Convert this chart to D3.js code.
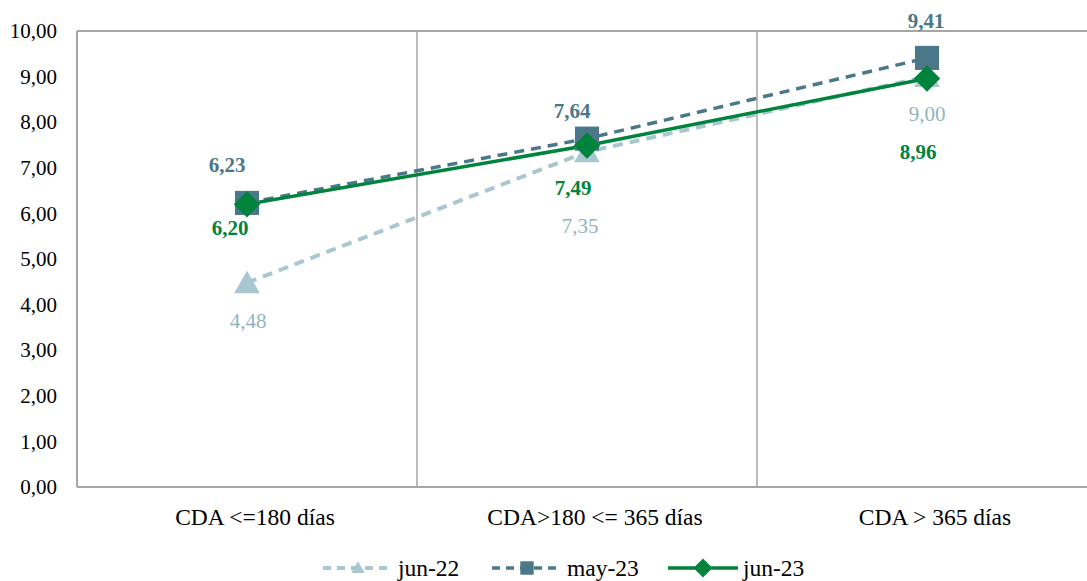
<!DOCTYPE html>
<html><head><meta charset="utf-8">
<script src="https://cdn.jsdelivr.net/npm/d3@7"></script>
<style>body{margin:0;background:#fff}svg{display:block}svg text{font-family:"Liberation Serif","Times New Roman",serif !important}</style>
</head><body><svg id="c" width="1087" height="581"></svg>
<script>
const categories = ["CDA <=180 días", "CDA>180 <= 365 días", "CDA > 365 días"];
const jun22 = [4.48, 7.35, 9.00];
const may23 = [6.23, 7.64, 9.41];
const jun23 = [6.20, 7.49, 8.96];
const yTicks = [0,1,2,3,4,5,6,7,8,9,10];
const seriesNames = ["jun-22", "may-23", "jun-23"];

// label offsets (layout only)
const labelOffsets = {
  "jun-22": [[1,38],[-7,74],[0,37]],
  "may-23": [[-20,-38],[-15,-28],[-1,-37]],
  "jun-23": [[-17,24],[-14,43],[-9,74]]
};

const svg = d3.select("#c");
const L = 77, T = 31, B = 487;
const x = d3.scaleBand().domain(categories).range([L, L + 3*340]).padding(0);
const y = d3.scaleLinear().domain([0,10]).range([B, T]);
const grid = "#a6a6a6";

svg.append("line").attr("x1",L).attr("x2",1087).attr("y1",y(10)).attr("y2",y(10)).attr("stroke",grid).attr("stroke-width",2);
svg.append("line").attr("x1",L).attr("x2",1087).attr("y1",y(0)).attr("y2",y(0)).attr("stroke",grid).attr("stroke-width",2);
svg.append("line").attr("x1",L).attr("x2",L).attr("y1",y(10)).attr("y2",y(0)).attr("stroke",grid).attr("stroke-width",2);
categories.slice(1).forEach(c=>{
  svg.append("line").attr("x1",x(c)).attr("x2",x(c)).attr("y1",y(10)).attr("y2",y(0)).attr("stroke",grid).attr("stroke-width",1.5);
});

const yAxis = d3.axisLeft(y).tickValues(yTicks).tickSize(0).tickPadding(20)
  .tickFormat(d=>d3.format(".2f")(d).replace(".",","));
const ga = svg.append("g").attr("transform",`translate(${L},0)`).call(yAxis);
ga.select(".domain").remove();
ga.attr("font-family",null);
ga.selectAll("text").attr("font-size",21).attr("fill","#000");

const xAxis = d3.axisBottom(x).tickSize(0).tickPadding(0);
const gx = svg.append("g").attr("transform",`translate(0,${B})`).call(xAxis);
gx.select(".domain").remove();
gx.attr("font-family",null);
gx.selectAll("text").attr("font-size",23.5).attr("fill","#000").attr("dy",null).attr("x",8).attr("y",30).attr("dominant-baseline","central");

const diamond = {draw(ctx, size){ const r = Math.sqrt(size/2); ctx.moveTo(0,-r); ctx.lineTo(r,0); ctx.lineTo(0,r); ctx.lineTo(-r,0); ctx.closePath(); }};

const series = [
  {name:"jun-22", vals:jun22, color:"#a9c7d0", label:"#92b4c0", dash:"10,7", w:4, sym:d3.symbolTriangle, size:290, legSize:80, bold:false},
  {name:"may-23", vals:may23, color:"#4a7889", label:"#4a7889", dash:"10,7", w:3.5, sym:d3.symbolSquare, size:580, legSize:180, bold:true},
  {name:"jun-23", vals:jun23, color:"#00843d", label:"#00843d", dash:null, w:3.5, sym:diamond, size:350, legSize:180, bold:true}
];
const cx = c => x(c) + x.bandwidth()/2;
const line = d3.line().x((d,i)=>cx(categories[i])).y(d=>y(d));

series.forEach(s=>{
  svg.append("path").attr("d",line(s.vals)).attr("fill","none").attr("stroke",s.color)
    .attr("stroke-width",s.w).attr("stroke-dasharray",s.dash);
});
series.forEach(s=>{
  s.vals.forEach((v,i)=>{
    const dy = s.sym===d3.symbolTriangle ? 3 : 0;
    svg.append("path").attr("d",d3.symbol(s.sym, s.size)())
      .attr("transform",`translate(${cx(categories[i])},${y(v)+dy})`).attr("fill",s.color);
  });
});
series.forEach(s=>{
  s.vals.forEach((v,i)=>{
    const o = labelOffsets[s.name][i];
    svg.append("text").attr("x",cx(categories[i])+o[0]).attr("y",y(v)+o[1])
      .attr("text-anchor","middle").attr("dominant-baseline","central")
      .attr("font-size",21).attr("font-weight",s.bold?"bold":"normal").attr("fill",s.label)
      .text(d3.format(".2f")(v).replace(".",","));
  });
});

const legX = [323, 492, 668];
series.forEach((s,i)=>{
  const g = svg.append("g").attr("transform",`translate(${legX[i]},568)`);
  g.append("line").attr("x1",0).attr("x2",70).attr("y1",0).attr("y2",0).attr("stroke",s.color)
    .attr("stroke-width",s.w).attr("stroke-dasharray",s.dash?"8,6":null);
  g.append("path").attr("d",d3.symbol(s.sym, s.legSize)()).attr("transform",`translate(35,${s.sym===d3.symbolTriangle?1:0})`).attr("fill",s.color);
  g.append("text").attr("x",75).attr("y",0).attr("dominant-baseline","central").attr("font-size",23.5).attr("fill","#000").text(s.name);
});
</script></body></html>
